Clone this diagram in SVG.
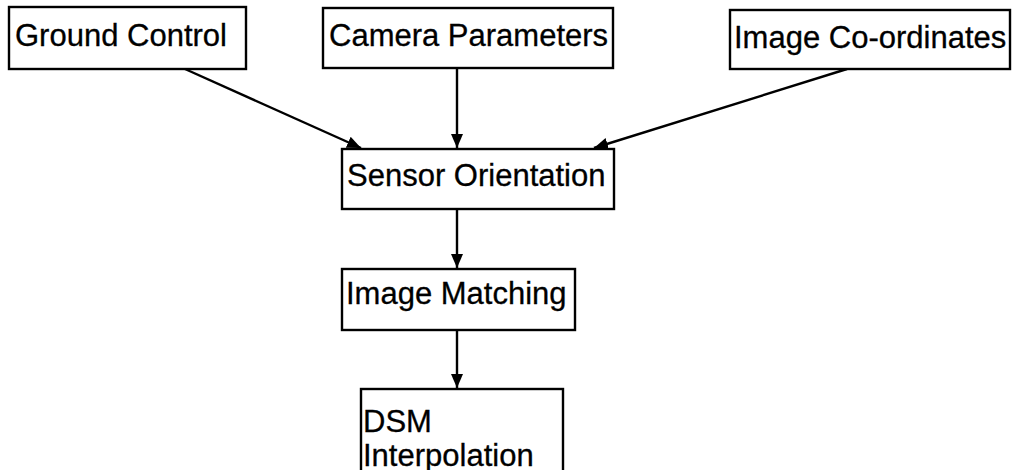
<svg xmlns="http://www.w3.org/2000/svg" width="1016" height="470" viewBox="0 0 1016 470">
<style>
.box{fill:#fff;stroke:#000;stroke-width:2.4}
.t{font-family:"Liberation Sans",Arial,sans-serif;font-size:31px;fill:#000;stroke:#000;stroke-width:0.3}
.c{stroke:#000;stroke-width:2.4;fill:none}
</style>
<defs>
<marker id="ah" markerWidth="14" markerHeight="14" viewBox="0 0 14 14" refX="14" refY="7" orient="auto" markerUnits="userSpaceOnUse">
<path d="M0,1 L14,7 L0,13 Z" fill="#000"/>
</marker>
</defs>
<rect width="1016" height="470" fill="#fff"/>
<g id="connectors">
<line class="c" x1="185" y1="69" x2="361" y2="148" marker-end="url(#ah)"/>
<line class="c" x1="457" y1="68" x2="457" y2="148" marker-end="url(#ah)"/>
<line class="c" x1="847" y1="69" x2="594" y2="148" marker-end="url(#ah)"/>
<line class="c" x1="457" y1="209" x2="457" y2="268" marker-end="url(#ah)"/>
<line class="c" x1="457" y1="330" x2="457" y2="388" marker-end="url(#ah)"/>
</g>
<g id="ground-control">
<rect class="box" x="9" y="7" width="237" height="62"/>
<text class="t" x="15" y="46">Ground Control</text>
</g>
<g id="camera-parameters">
<rect class="box" x="323" y="8" width="290" height="60"/>
<text class="t" x="329" y="46">Camera Parameters</text>
</g>
<g id="image-coordinates">
<rect class="box" x="730" y="10" width="280" height="59"/>
<text class="t" x="734" y="48">Image Co-ordinates</text>
</g>
<g id="sensor-orientation">
<rect class="box" x="342" y="149" width="272" height="60"/>
<text class="t" x="347" y="186">Sensor Orientation</text>
</g>
<g id="image-matching">
<rect class="box" x="342" y="269" width="233" height="61"/>
<text class="t" x="346" y="304">Image Matching</text>
</g>
<g id="dsm-interpolation">
<rect class="box" x="361" y="389" width="202" height="90"/>
<text class="t" x="363" y="432">DSM</text>
<text class="t" x="363" y="466">Interpolation</text>
</g>
</svg>
